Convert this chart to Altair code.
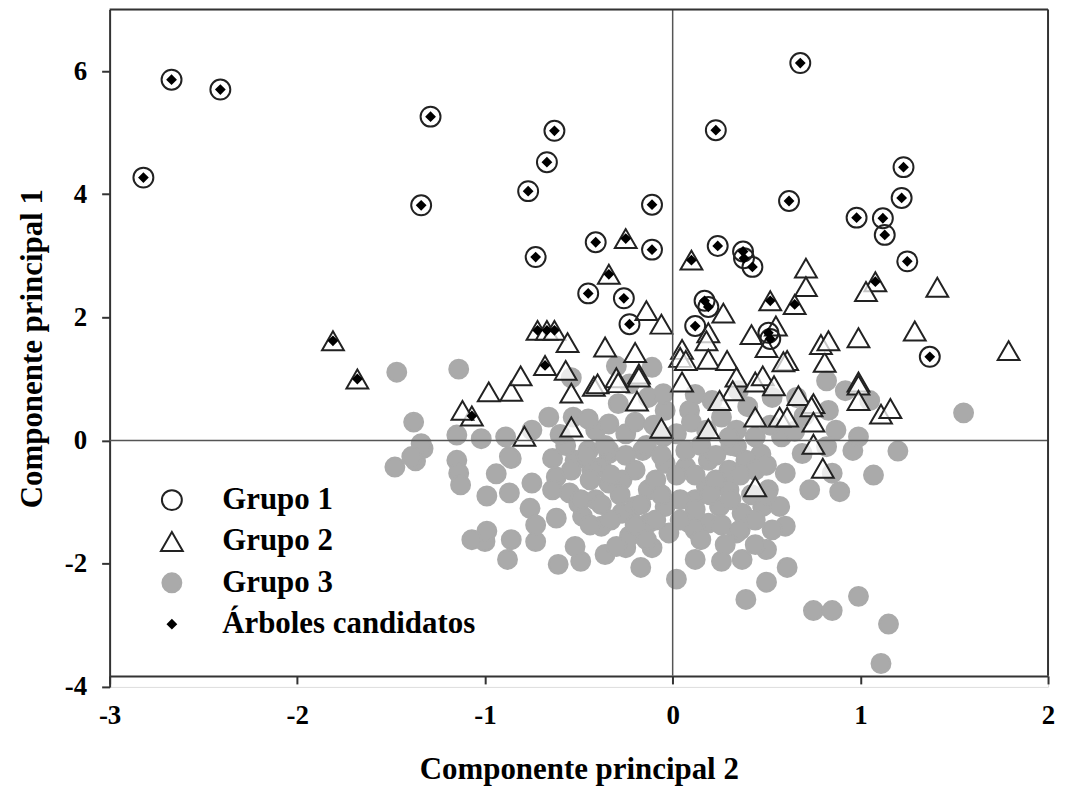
import altair as alt
import pandas as pd

# ---------------- data ----------------
# Grupo 1 (open circles, all are candidate trees)
g1_x = [-2.67, -2.41, -2.82, -1.29, -1.34, -0.63, -0.67, -0.77, -0.73,
        0.68, 0.23, 1.23, 1.22, 0.62, 0.98, 1.12, 1.13, 1.25,
        -0.11, -0.41, -0.11, -0.45, -0.26, 0.24, 0.375, 0.38, 0.425,
        -0.23, 0.17, 0.19, 0.12, 0.51, 0.52, 1.37]
g1_y = [5.86, 5.70, 4.27, 5.26, 3.82, 5.03, 4.52, 4.05, 2.98,
        6.13, 5.04, 4.44, 3.94, 3.89, 3.62, 3.61, 3.34, 2.91,
        3.83, 3.22, 3.10, 2.39, 2.31, 3.16, 3.07, 2.96, 2.82,
        1.89, 2.27, 2.17, 1.86, 1.75, 1.65, 1.36]

# Grupo 2 (open triangles); cand = 1 when marked as candidate tree
g2_x = [-0.25, -0.34, 0.10, 1.08, -1.81, -1.68, -1.07, -0.68, -0.72, -0.67, -0.63, 0.52, 0.65,
        0.71, 0.71, 1.03, 1.41,
        -1.12, -0.98, -0.86, -0.81, -0.56, -0.57, -0.54, -0.54, -0.79, -0.36, -0.42, -0.40,
        -0.30, -0.29, -0.20, -0.18, -0.18, -0.19, -0.06, -0.14, -0.06,
        0.27, 0.19, 0.18, 0.05, 0.04, 0.07, 0.05, 0.19, 0.19, 0.29, 0.42, 0.55, 0.50,
        0.61, 0.59, 0.34, 0.32, 0.25, 0.44, 0.48, 0.54, 0.44, 0.57, 0.61, 0.67, 0.75,
        0.74, 0.75, 0.75, 0.81, 0.79, 0.83, 0.99, 0.99, 0.99, 0.99, 1.11, 1.16, 1.29,
        1.79, 0.80, 0.44]
g2_y = [3.28, 2.70, 2.93, 2.58, 1.62, 1.00, 0.40, 1.22, 1.79, 1.79, 1.79, 2.27, 2.21,
        2.80, 2.50, 2.42, 2.49,
        0.49, 0.79, 0.80, 1.05, 1.59, 1.14, 0.77, 0.22, 0.07, 1.52, 0.88, 0.92,
        1.02, 0.94, 1.43, 1.08, 1.03, 0.64, 0.20, 2.11, 1.89,
        2.07, 1.75, 1.62, 1.48, 1.35, 1.30, 0.95, 0.19, 1.32, 1.30, 1.72, 1.86, 1.51,
        1.30, 1.28, 1.03, 0.81, 0.65, 0.95, 1.05, 0.89, 0.38, 0.38, 0.38, 0.73, 0.60,
        0.55, 0.30, -0.06, 1.27, 1.56, 1.62, 1.67, 0.95, 0.90, 0.65, 0.43, 0.52, 1.78,
        1.46, -0.45, -0.75]
g2_cand = [1, 1, 1, 1, 1, 1, 1, 1, 1, 1, 1, 1, 1] + [0] * (len(g2_x) - 13)

# Grupo 3 (grey filled circles)
g3_x = [-0.88, -0.61, -0.49, -0.36, -0.25, -0.11, -0.17, 0.02, 0.12, 0.26, 0.37, 0.50,
        0.61, 0.50, 0.39, 0.75, 0.85, 0.99, 1.15, 1.11, -0.73, -1.00,
        -1.48, -1.37, -1.33, -1.15, -1.14, -1.13, -0.99, -0.94, -0.86, -0.87, -0.75, -0.76,
        -0.73, -0.99, -1.07, -0.86, -0.62, -0.64, -0.62, -0.64, -0.55, -0.52, -0.48, -0.50,
        -0.52, -0.38, -0.41, -0.38, -0.27, -0.27, -0.23, -0.16, -0.13, -0.13, -0.04, -0.04,
        -0.02, -0.34, -0.45, -0.34, -0.20, -0.30,
        0.47, 1.20, 1.07, 0.89, 0.73, 0.60, 0.60, 0.53, 0.09, 0.19, 0.34, 0.12, 0.25, 0.37,
        0.48, 0.57, 0.07, 0.19, 0.30, 0.34, 0.18, 0.30, 0.51, 0.69, 0.82, 0.96, 0.85,
        -1.47, -1.14, -1.38, -1.34, -1.15, -1.02, -0.89, -0.75, -0.66, -0.53, -0.54, -0.41,
        -0.30, -0.29, -0.11, -0.13, -0.34, -0.25, -0.04, -0.05, -0.23, -1.39, -0.87, -0.43,
        -0.34,
        -0.05, 0.09, 0.21, 0.26, 0.35, 0.44, 0.53, 0.58, 0.66, 0.82, 0.83, 0.87, 0.99, 1.55,
        1.05, 0.92, 0.02, 0.18, 0.34,
        -0.57, -0.46, -0.36, -0.25, -0.14, -0.06, 0.07, 0.15, 0.23, 0.31, 0.39, 0.44,
        -0.54, -0.44, -0.33, -0.20, -0.09, 0.02, 0.12, 0.23, 0.36, 0.50,
        -0.49, -0.38, -0.28, -0.17, -0.06, 0.04, 0.12, 0.20, 0.31, 0.42, 0.50,
        -0.44, -0.33, -0.20, -0.09, 0.04, 0.12, 0.26, 0.36, 0.44,
        -0.14, 0.15, 0.28, 0.44,
        0.10, 0.30, 0.52, 0.65, 0.70, 0.40, 0.12, -0.60, -0.45, -0.20, -0.10]
g3_y = [-1.93, -2.01, -1.96, -1.85, -1.74, -1.74, -2.06, -2.25, -1.93, -1.96, -1.93, -1.77,
        -2.06, -2.30, -2.58, -2.76, -2.76, -2.53, -2.98, -3.62, -1.64, -1.64,
        -0.43, -0.33, -0.13, -0.32, -0.53, -0.72, -0.90, -0.54, -0.29, -0.85, -0.69, -1.10,
        -1.37, -1.47, -1.61, -1.61, -1.26, -0.29, -0.59, -0.80, -0.85, -1.72, -1.23, -1.02,
        -0.32, -0.43, -0.96, -1.39, -0.64, -1.18, -1.55, -0.16, -0.80, -1.34, -0.37, -1.07,
        -1.50, -0.21, -0.16, -0.69, -1.07, -1.72,
        -0.22, -0.17, -0.56, -0.83, -0.80, -0.53, -1.39, -1.45, -1.34, -1.34, -1.50, -0.96,
        -1.07, -1.18, -1.07, -1.07, -0.43, -0.32, -0.48, -0.10, -0.75, -0.80, -0.80, -0.21,
        -0.10, -0.16, -0.53,
        1.11, 1.16, 0.30, -0.05, 0.09, 0.03, 0.06, 0.17, 0.38, 0.38, 1.02, 0.17,
        1.21, 0.60, 1.19, 0.70, 0.27, 0.11, 0.49, 0.06, 0.92, -0.26, -0.26, -0.48,
        -0.16,
        0.76, 0.49, 0.65, 0.38, 0.81, 0.06, 0.70, 0.06, 0.70, 0.97, 0.49, 0.17, 0.06, 0.45,
        0.65, 0.81, 0.11, 0.17, 0.17,
        -0.08, -0.24, -0.08, -0.24, -0.08, -0.24, -0.16, -0.08, -0.24, -0.08, -0.32, -0.48,
        -0.48, -0.64, -0.56, -0.48, -0.64, -0.56, -0.56, -0.64, -0.56, -0.40,
        -0.96, -1.04, -0.88, -1.04, -0.88, -0.96, -1.12, -0.88, -0.96, -0.88, -0.88,
        -1.37, -1.29, -1.37, -1.29, -1.29, -1.45, -1.37, -1.45, -1.29,
        -1.61, -1.61, -1.69, -1.69,
        0.30, 0.05, 0.25, 0.15, 0.40, 0.55, 0.75, 0.10, 0.35, 0.30, 0.25]

groups = ["Grupo 1", "Grupo 2", "Grupo 3", "Árboles candidatos"]
x_ticks = [-3, -2, -1, 0, 1, 2]
y_ticks = [-4, -2, 0, 2, 4, 6]

# ---------------- table ----------------
rows = []
for x, y in zip(g3_x, g3_y):
    rows.append({"x": x, "y": y, "grupo": "Grupo 3", "orden": 0})
for x, y in zip(g2_x, g2_y):
    rows.append({"x": x, "y": y, "grupo": "Grupo 2", "orden": 1})
for x, y in zip(g1_x, g1_y):
    rows.append({"x": x, "y": y, "grupo": "Grupo 1", "orden": 2})
for x, y in zip(g1_x, g1_y):
    rows.append({"x": x, "y": y, "grupo": "Árboles candidatos", "orden": 3})
for x, y, c in zip(g2_x, g2_y, g2_cand):
    if c:
        rows.append({"x": x, "y": y, "grupo": "Árboles candidatos", "orden": 3})
df = pd.DataFrame(rows)

FONT = "Liberation Serif"
xscale = alt.Scale(domain=[-3, 2], nice=False, zero=False)
yscale = alt.Scale(domain=[-4, 7], nice=False, zero=False)

leg = alt.Legend(title=None, orient="none", legendX=47, legendY=477,
                 labelFont=FONT, labelFontSize=31, labelFontWeight="bold",
                 labelColor="black", symbolStrokeWidth=2, rowPadding=9.5,
                 labelOffset=35, padding=0, labelLimit=500)

xaxis = alt.Axis(values=x_ticks, labelExpr="'' + datum.value", title="Componente principal 2",
                 labelPadding=19, titlePadding=26, offset=-11)
yaxis = alt.Axis(values=y_ticks, labelExpr="'' + datum.value", title="Componente principal 1",
                 labelPadding=15, titlePadding=16)

points = alt.Chart(df).mark_point(opacity=1, strokeWidth=2).encode(
    x=alt.X("x:Q", scale=xscale, axis=xaxis),
    y=alt.Y("y:Q", scale=yscale, axis=yaxis),
    shape=alt.Shape("grupo:N", scale=alt.Scale(domain=groups,
                    range=["circle", "triangle-up", "circle", "diamond"]), legend=leg),
    fill=alt.Fill("grupo:N", scale=alt.Scale(domain=groups,
                  range=["transparent", "rgba(255,255,255,0.75)", "#aaaaaa", "black"]), legend=leg),
    stroke=alt.Stroke("grupo:N", scale=alt.Scale(domain=groups,
                      range=["#222222", "#222222", "#aaaaaa", "black"]), legend=leg),
    size=alt.Size("grupo:N", scale=alt.Scale(type="ordinal", domain=groups,
                  range=[400, 480, 361, 64]), legend=leg),
    order=alt.Order("orden:Q"),
)

x_axis_pos = -3.82
frame_df = pd.DataFrame({"x0": [-3], "x1": [2], "y0": [x_axis_pos], "y1": [7]})

hline = alt.Chart(frame_df).mark_rule(color="#555", strokeWidth=1.5).encode(
    y=alt.datum(0, scale=yscale), x=alt.X("x0:Q", scale=xscale), x2="x1:Q")
vline = alt.Chart(frame_df).mark_rule(color="#555", strokeWidth=1.5).encode(
    x=alt.datum(0, scale=xscale), y=alt.Y("y0:Q", scale=yscale), y2="y1:Q")
top_border = alt.Chart(frame_df).mark_rule(color="#333", strokeWidth=2).encode(
    y=alt.datum(7, scale=yscale), x=alt.X("x0:Q", scale=xscale), x2="x1:Q")
right_border = alt.Chart(frame_df).mark_rule(color="#333", strokeWidth=2).encode(
    x=alt.datum(2, scale=xscale), y=alt.Y("y0:Q", scale=yscale), y2="y1:Q")

chart = alt.layer(points, hline, vline, top_border, right_border).properties(
    width=942, height=680,
    autosize=alt.AutoSizeParams(type="none"),
    padding={"left": 102, "top": 0, "right": 9, "bottom": 100},
).configure_view(stroke=None).configure(background="white").configure_axis(
    labelFont=FONT, labelFontSize=27, labelFontWeight="bold", labelColor="black",
    titleFont=FONT, titleFontSize=31, titleFontWeight="bold", titleColor="black",
    tickSize=8, tickWidth=2, tickColor="#333", domainColor="#333", domainWidth=2,
    grid=False, labelFlush=False, labelOverlap=False,
)

chart.save("out.html", embed_options={"renderer": "svg", "actions": False})
